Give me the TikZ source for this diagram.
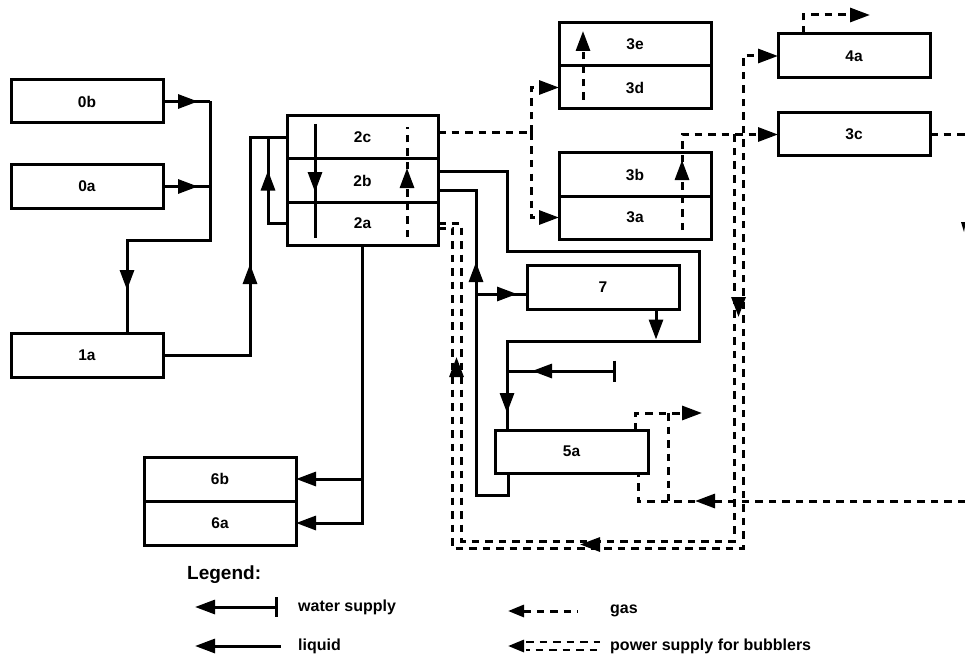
\documentclass[tikz,border=0pt]{standalone}
\usepackage{fontspec}
\setmainfont{Liberation Sans}
\usetikzlibrary{arrows.meta, positioning, decorations.markings}

\tikzset{
  unitbox/.style={draw, line width=3pt, minimum width=152pt, minimum height=43pt,
    inner sep=0pt, outer sep=0pt, font=\fontsize{15.5}{17}\selectfont\bfseries},
  liquid/.style={line width=3pt},
  gas/.style={line width=3pt, dash pattern=on 7.5pt off 6pt},
  flow/.style={-{Triangle[length=20pt,width=14pt]}},
  arrowat/.style={postaction={decorate}, decoration={markings,
      mark=at position #1 with {\arrow{Triangle[length=20pt,width=14pt]}}}},
  legtext/.style={anchor=west, inner sep=0pt, font=\fontsize{16}{18}\selectfont\bfseries},
}

\begin{document}
\begin{tikzpicture}[x=1pt, y=-1pt]
  \useasboundingbox (0,0) rectangle (965,655);

  % feed and first stage
  \node[unitbox] (u0b) at (87,101.5) {0b};
  \node[unitbox] (u0a) at (87,186.5) {0a};
  \node[unitbox, minimum height=44pt] (u1a) at (87,355) {1a};

  % column 2
  \node[unitbox, minimum width=151pt] (u2c) at (362.5,137.5) {2c};
  \node[unitbox, minimum width=151pt, below=0pt of u2c] (u2b) {2b};
  \node[unitbox, minimum width=151pt, below=0pt of u2b] (u2a) {2a};

  % column 3 and the outlets
  \node[unitbox] (u3e) at (635,44.5) {3e};
  \node[unitbox, below=0pt of u3e] (u3d) {3d};
  \node[unitbox] (u3b) at (635,174.5) {3b};
  \node[unitbox, below=0pt of u3b] (u3a) {3a};
  \node[unitbox, minimum height=44pt] (u4a) at (854,56) {4a};
  \node[unitbox] (u3c) at (854,134.5) {3c};

  % lower units
  \node[unitbox, minimum height=44pt] (u7) at (603,287) {7};
  \node[unitbox, minimum width=153pt] (u5a) at (571.5,451.5) {5a};
  \node[unitbox, minimum height=44pt] (u6b) at (220,479) {6b};
  \node[unitbox, minimum height=44pt, below=0pt of u6b] (u6a) {6a};

  % stray mark at the right edge
  \fill (961,222) -- (965,222) -- (965,226) -- (964,232) -- cycle;

  % liquid lines
  \coordinate (m0) at (210,101.5);
  \coordinate (m1) at (127,240);
  \coordinate (m2) at (250,137.5);
  \coordinate (m3) at (268,137.5);
  \coordinate (m4) at (507,251.5);
  \coordinate (m5) at (699,341);
  \coordinate (m6) at (476,495.5);
  \coordinate (m7) at (476,294);
  \coordinate (w0) at (616,371);
  \draw[liquid, arrowat=35pt] (u0b.east) -- (m0);
  \draw[liquid, arrowat=35pt] (u0a.east) -- (u0a.east -| m0);
  \draw[liquid, arrowat=-43pt] (m0) |- (m1) -- (m1 |- u1a.north);
  \draw[liquid, arrowat=178pt] (u1a.east) -| (m2) -- (u2c.west);
  \draw[liquid, arrowat=72pt] (u2a.west) -| (m3);
  \draw[liquid, arrowat=68pt] (315,124) -- (315,238);
  \draw[liquid, arrowat=-17pt] ([yshift=9.5pt]u2b.east) -| (m4) -| (m5) -| ([xshift=-64.5pt]u5a.north);
  \draw[liquid, flow, shorten >=1.5pt] ([xshift=53pt]u7.south) -- ([xshift=53pt]u7.south |- m5);
  \draw[liquid, {Bar[width=21pt]}-, arrowat=84pt] (w0) -- (w0 -| m4);
  \draw[liquid, arrowat=288pt] ([xshift=-63.5pt]u5a.south) |- (m6) |- ([yshift=-9.5pt]u2b.east);
  \draw[liquid, arrowat=41pt] (m7) -- (m7 -| u7.west);
  \draw[liquid, flow] (u2a.south) |- (u6b.east);
  \draw[liquid, flow] (u2a.south) |- (u6a.east);

  % gas lines
  \coordinate (g0) at (531,133);
  \coordinate (g1) at (870,15);
  \coordinate (g2) at (965,134.5);
  \coordinate (g3) at (965,501);
  \coordinate (g4) at (702,413);
  \draw[gas] ([yshift=4.5pt]u2c.east) -- (g0);
  \draw[gas, flow] (g0) |- (u3d.west);
  \draw[gas, flow] (g0) |- (u3a.west);
  \draw[gas, arrowat=69pt] (407,237) -- (407,127);
  \draw[gas, flow] (583,100) -- (583,31);
  \draw[gas, flow, arrowat=70pt] (682,230) |- (u3c.west);
  \draw[gas, flow] ([xshift=-51pt]u4a.north) |- (g1);
  \draw[gas] (u3c.east) -- (g2);
  \draw[gas, arrowat=270pt] (g3) -| ([xshift=66.5pt]u5a.south);
  \draw[gas, flow] ([xshift=63.5pt]u5a.north) |- (g4);
  \draw[gas] (g4 -| 668,0) -- (g3 -| 668,0);

  % power supply for the bubblers (double line)
  \coordinate (p0) at (452,548);
  \coordinate (p1) at (743,56);
  \coordinate (p2) at (461,541);
  \coordinate (p3) at (734,134.5);
  \draw[gas, flow] ([yshift=-4.5pt]u2a.east) -| (p0) -| (p1) -- (u4a.west);
  \draw[gas] (u2a.east) -| (p2) -| (p3);
  \draw[liquid, flow] (456.5,377) -- (456.5,357);
  \draw[liquid, flow] (738.5,297) -- (738.5,317);
  \draw[liquid, flow] (600,544.5) -- (580,544.5);

  % legend
  \node[anchor=west, inner sep=0pt, font=\fontsize{19}{21}\selectfont\bfseries] (legend) at (187,575) {Legend:};
  \node[legtext] (lwater) at (298,607) {water supply};
  \node[legtext] (lliquid) at (298,646) {liquid};
  \node[legtext] (lgas) at (610,611) {gas};
  \node[legtext] (lpower) at (610,646) {power supply for bubblers};
  \draw[liquid, {Triangle[length=20pt,width=14pt]}-{Bar[width=20pt]}]
    ([xshift=-103pt]lwater.west) -- ([xshift=-20pt]lwater.west);
  \draw[liquid, {Triangle[length=20pt,width=14pt]}-]
    ([xshift=-103pt]lliquid.west) -- ([xshift=-17pt]lliquid.west);
  \draw[gas, {Triangle[length=16pt,width=12pt]}-]
    ([xshift=-102pt]lgas.west) -- ([xshift=-32pt]lgas.west);
  \draw[liquid, {Triangle[length=16pt,width=12pt]}-]
    ([xshift=-102pt]lpower.west) -- ([xshift=-86pt]lpower.west);
  \draw[gas, line width=2.4pt] ([xshift=-84pt, yshift=4pt]lpower.west) -- ([xshift=-10pt, yshift=4pt]lpower.west);
  \draw[gas, line width=2.4pt, dash phase=4pt] ([xshift=-84pt, yshift=-4pt]lpower.west) -- ([xshift=-10pt, yshift=-4pt]lpower.west);
\end{tikzpicture}
\end{document}
